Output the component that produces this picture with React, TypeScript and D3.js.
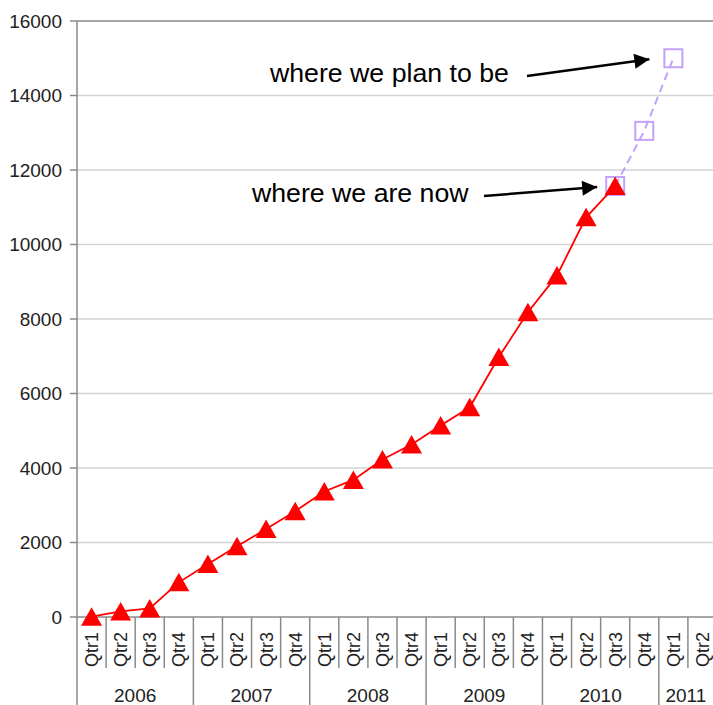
import { useEffect, useRef } from 'react';
import * as d3 from 'd3';

// quarters 2006 Q1 .. 2011 Q2
const years = ['2006', '2007', '2008', '2009', '2010', '2011'];
const quartersPerYear = [4, 4, 4, 4, 4, 2];
const quarterLabels = ['Qtr1', 'Qtr2', 'Qtr3', 'Qtr4'];
const actual = [10, 150, 230, 930, 1420, 1900, 2360, 2840, 3370, 3680, 4230, 4630, 5140, 5630, 6980, 8180, 9170, 10730, 11570];
const plan: (number | null)[] = [null, null, null, null, null, null, null, null, null, null, null, null, null, null, null, null, null, null, 11570, 13050, 15000, null];
const yTicks = [0, 2000, 4000, 6000, 8000, 10000, 12000, 14000, 16000];

const FONT = '"Liberation Sans", Arial, sans-serif';

export default function App() {
  const svgRef = useRef<SVGSVGElement>(null);

  useEffect(() => {
    document.body.style.margin = '0';
    if (!svgRef.current) return;

    const width = 713;
    const height = 705;
    const left = 77;
    const top = 21;
    const bottom = 617;

    const svg = d3.select(svgRef.current)
      .attr('width', width)
      .attr('height', height);
    svg.selectAll('*').remove();

    // build category list
    const cats: { year: string; q: string; key: string }[] = [];
    years.forEach((yr, i) => {
      for (let k = 0; k < quartersPerYear[i]; k++) {
        cats.push({ year: yr, q: quarterLabels[k], key: `${yr}-${quarterLabels[k]}` });
      }
    });

    const x = d3.scaleBand<string>()
      .domain(cats.map(c => c.key))
      .range([left, 717])
      .padding(0);

    const y = d3.scaleLinear()
      .domain([0, 16000])
      .range([bottom, top]);

    const cx = (i: number) => (x(cats[i].key) as number) + x.bandwidth() / 2;

    // gridlines
    svg.append('g')
      .selectAll('line')
      .data(yTicks.filter(t => t !== 0 && t !== 16000))
      .join('line')
      .attr('x1', left).attr('x2', width)
      .attr('y1', d => y(d)).attr('y2', d => y(d))
      .attr('stroke', '#d3d3d3')
      .attr('stroke-width', 1.5);

    // top border
    svg.append('line')
      .attr('x1', left).attr('x2', width)
      .attr('y1', y(16000)).attr('y2', y(16000))
      .attr('stroke', '#8a8a8a').attr('stroke-width', 1.5);

    // y axis
    const yAxis = svg.append('g');
    yAxis.selectAll('line.tick')
      .data(yTicks)
      .join('line')
      .attr('class', 'tick')
      .attr('x1', left - 7).attr('x2', left)
      .attr('y1', d => y(d)).attr('y2', d => y(d))
      .attr('stroke', '#8a8a8a').attr('stroke-width', 1.5);
    yAxis.selectAll('text')
      .data(yTicks)
      .join('text')
      .attr('x', 62)
      .attr('y', d => y(d))
      .attr('dy', '0.36em')
      .attr('text-anchor', 'end')
      .attr('font-family', FONT)
      .attr('font-size', 19)
      .attr('fill', '#222')
      .text(d => String(d));

    // x axis line
    svg.append('line')
      .attr('x1', left).attr('x2', width)
      .attr('y1', bottom).attr('y2', bottom)
      .attr('stroke', '#8a8a8a').attr('stroke-width', 1.5);

    // left axis line (runs through category area)
    svg.append('line')
      .attr('x1', left).attr('x2', left)
      .attr('y1', top).attr('y2', height)
      .attr('stroke', '#8a8a8a').attr('stroke-width', 1.5);

    // quarter separators
    const xAxis = svg.append('g');
    xAxis.selectAll('line.qsep')
      .data(cats.slice(1).map(c => c.key))
      .join('line')
      .attr('class', 'qsep')
      .attr('x1', d => x(d) as number).attr('x2', d => x(d) as number)
      .attr('y1', bottom)
      .attr('y2', d => (d.endsWith('Qtr1') ? height : 668))
      .attr('stroke', '#8a8a8a').attr('stroke-width', 1.5);

    xAxis.selectAll('text.qlab')
      .data(cats)
      .join('text')
      .attr('class', 'qlab')
      .attr('transform', (_, i) => `translate(${cx(i)},667) rotate(-90)`)
      .attr('dy', '0.36em')
      .attr('text-anchor', 'start')
      .attr('font-family', FONT)
      .attr('font-size', 18)
      .attr('fill', '#222')
      .text(d => d.q);

    // year labels
    let start = 0;
    const yearPos = years.map((yr, i) => {
      const s = start;
      start += quartersPerYear[i];
      const x0 = x(cats[s].key) as number;
      const x1 = (x(cats[start - 1].key) as number) + x.bandwidth();
      return { yr, mid: (x0 + Math.min(x1, width)) / 2 };
    });
    xAxis.selectAll('text.ylab')
      .data(yearPos)
      .join('text')
      .attr('class', 'ylab')
      .attr('x', d => d.mid)
      .attr('y', 702)
      .attr('text-anchor', 'middle')
      .attr('font-family', FONT)
      .attr('font-size', 19)
      .attr('fill', '#222')
      .text(d => d.yr);

    // plan series
    const planColor = '#c3a2fb';
    const planPts = plan.map((v, i) => ({ i, v })).filter(d => d.v !== null) as { i: number; v: number }[];
    const line = d3.line<{ i: number; v: number }>()
      .x(d => cx(d.i))
      .y(d => y(d.v));

    svg.append('path')
      .datum(planPts)
      .attr('fill', 'none')
      .attr('stroke', planColor)
      .attr('stroke-width', 2)
      .attr('stroke-dasharray', '8,5')
      .attr('d', line);

    svg.append('g')
      .selectAll('rect')
      .data(planPts)
      .join('rect')
      .attr('x', d => cx(d.i) - 9)
      .attr('y', d => y(d.v) - 9)
      .attr('width', 18)
      .attr('height', 18)
      .attr('fill', 'none')
      .attr('stroke', planColor)
      .attr('stroke-width', 2);

    // actual series
    const actPts = actual.map((v, i) => ({ i, v }));
    svg.append('path')
      .datum(actPts)
      .attr('fill', 'none')
      .attr('stroke', '#ff0000')
      .attr('stroke-width', 1.8)
      .attr('d', line);

    svg.append('g')
      .selectAll('path')
      .data(actPts)
      .join('path')
      .attr('transform', d => `translate(${cx(d.i)},${y(d.v)})`)
      .attr('d', 'M0,-9.5L10.5,9L-10.5,9Z')
      .attr('fill', '#ff0000');

    // annotations
    const defs = svg.append('defs');
    defs.append('marker')
      .attr('id', 'arrow')
      .attr('viewBox', '0 0 10 10')
      .attr('refX', 10).attr('refY', 5)
      .attr('markerWidth', 6.5).attr('markerHeight', 6)
      .attr('markerUnits', 'strokeWidth')
      .attr('orient', 'auto')
      .append('path')
      .attr('d', 'M0,0L10,5L0,10Z')
      .attr('fill', '#000');

    const goalI = plan.lastIndexOf(15000);
    const nowI = actual.length - 1;

    svg.append('text')
      .attr('x', 270).attr('y', 82)
      .attr('font-family', FONT).attr('font-size', 26.7)
      .attr('fill', '#000')
      .text('where we plan to be');
    svg.append('line')
      .attr('x1', 527).attr('y1', 76)
      .attr('x2', cx(goalI) - 24).attr('y2', y(plan[goalI] as number) + 1)
      .attr('stroke', '#000').attr('stroke-width', 2.5)
      .attr('marker-end', 'url(#arrow)');

    svg.append('text')
      .attr('x', 252).attr('y', 202)
      .attr('font-family', FONT).attr('font-size', 26.7)
      .attr('fill', '#000')
      .text('where we are now');
    svg.append('line')
      .attr('x1', 484).attr('y1', 196)
      .attr('x2', cx(nowI) - 18).attr('y2', y(actual[nowI]) + 1)
      .attr('stroke', '#000').attr('stroke-width', 2.5)
      .attr('marker-end', 'url(#arrow)');
  }, []);

  return <svg ref={svgRef} style={{ display: 'block' }} />;
}
